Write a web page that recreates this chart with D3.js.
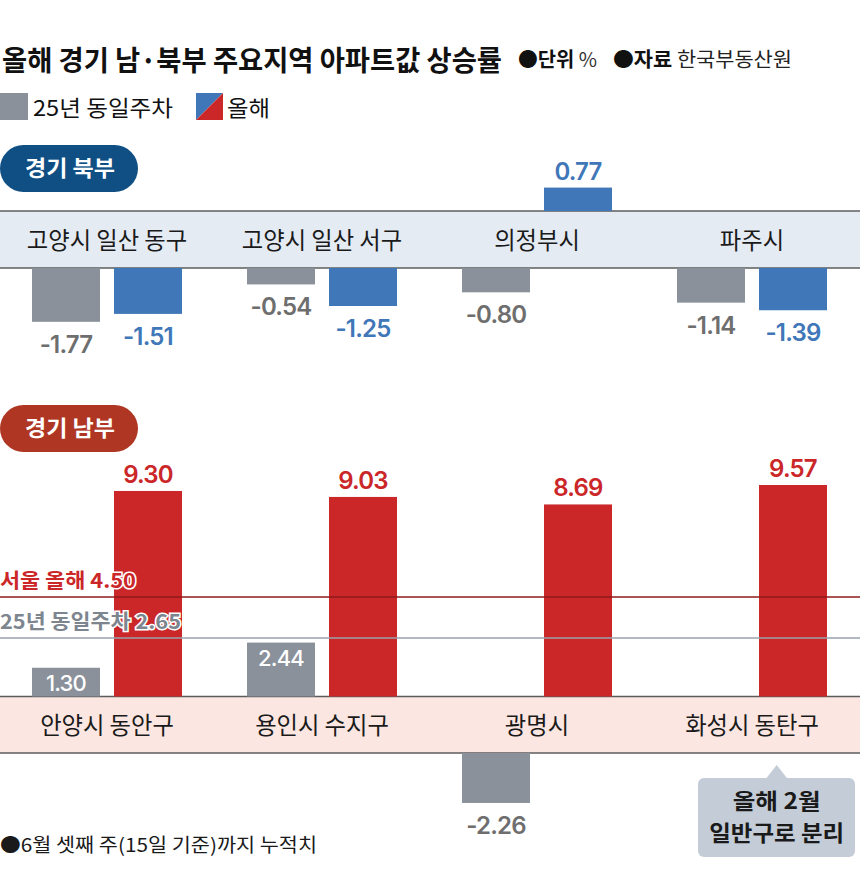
<!DOCTYPE html>
<html><head><meta charset="utf-8">
<script src="https://cdn.jsdelivr.net/npm/d3@7/dist/d3.min.js"></script>
<style>
html,body{margin:0;padding:0;background:#fff;}
svg{display:block;}
text{font-family:"Noto Sans CJK KR","Noto Sans",sans-serif;}
.num{font-family:Inter,"Noto Sans",sans-serif;}
</style></head>
<body>
<svg id="chart" width="860" height="869"></svg>
<script>
// ---------- DATA ----------
const northCategories = ["고양시 일산 동구", "고양시 일산 서구", "의정부시", "파주시"];
const northPrev = [-1.77, -0.54, -0.80, -1.14];   // 25년 동일주차
const northThis = [-1.51, -1.25, 0.77, -1.39];    // 올해
const southCategories = ["안양시 동안구", "용인시 수지구", "광명시", "화성시 동탄구"];
const southPrev = [1.30, 2.44, -2.26, null];
const southThis = [9.30, 9.03, 8.69, 9.57];
const seoulThis = 4.50;
const prevAvg = 2.65;
const seriesKeys = ["prev", "this"];

// ---------- STYLE ----------
const C = {
  gray: "#8a919b", blue: "#3f77b8", red: "#cb2628",
  grayText: "#6e6e6e", navy: "#0f4f84", brick: "#b03624",
  northBand: "#e5ebf3", southBand: "#fbe6e1", bandLine: "#5c5c5c",
  seoulLine: "#8e1b1b", prevLine: "#9aa2ad", prevLabel: "#7d858f"
};

const svg = d3.select("#chart");

function condense(sel, target) {
  sel.attr("textLength", target).attr("lengthAdjust", "spacingAndGlyphs");
}

// ---------- HEADER ----------
svg.append("text").attr("x", 2).attr("y", 71)
  .attr("font-size", 28).attr("font-weight", 700).attr("fill", "#111")
  .text("올해 경기 남·북부 주요지역 아파트값 상승률").call(condense, 500);

const unit = svg.append("text").attr("x", 518).attr("y", 67).attr("font-size", 20).attr("fill", "#111");
unit.append("tspan").attr("font-weight", 700).text("●단위");
unit.append("tspan").attr("font-weight", 400).attr("fill", "#333").text(" %");
unit.call(condense, 79);

const src = svg.append("text").attr("x", 613).attr("y", 67).attr("font-size", 20).attr("fill", "#111");
src.append("tspan").attr("font-weight", 700).text("●자료");
src.append("tspan").attr("font-weight", 400).attr("fill", "#222").text(" 한국부동산원");
src.call(condense, 179);

// legend
svg.append("rect").attr("x", 0).attr("y", 93).attr("width", 28).attr("height", 27).attr("fill", C.gray);
svg.append("text").attr("x", 33).attr("y", 116).attr("font-size", 22).attr("fill", "#111")
  .text("25년 동일주차").call(condense, 140);
svg.append("path").attr("d", "M196,93 L223,93 L196,120 Z").attr("fill", C.blue);
svg.append("path").attr("d", "M223,93 L223,120 L196,120 Z").attr("fill", C.red);
svg.append("text").attr("x", 227).attr("y", 116).attr("font-size", 22).attr("fill", "#111")
  .text("올해").call(condense, 43);

// ---------- PANEL ----------
const x1 = d3.scaleBand().domain(seriesKeys).range([32, 182]).paddingInner(0.1707);

function drawPanel(cfg) {
  const x = d3.scaleBand().domain(cfg.cats).range([0, 860]);
  const len = d3.scaleLinear().domain([0, 1]).range([0, cfg.unit]);
  const g = svg.append("g");

  // badge
  g.append("rect").attr("x", 0).attr("y", cfg.badgeY).attr("width", 138).attr("height", 47)
    .attr("rx", 23.5).attr("fill", cfg.badgeFill);
  g.append("text").attr("x", 70).attr("y", cfg.badgeY + 31).attr("text-anchor", "middle")
    .attr("font-size", 22).attr("font-weight", 700).attr("fill", "#fff")
    .text(cfg.badgeText).call(condense, 90);

  // band
  g.append("rect").attr("x", 0).attr("y", cfg.top).attr("width", 860).attr("height", cfg.bottom - cfg.top)
    .attr("fill", cfg.bandFill);
  [cfg.top, cfg.bottom].forEach(yy => g.append("line").attr("x1", 0).attr("x2", 860)
    .attr("y1", yy).attr("y2", yy).attr("stroke", C.bandLine).attr("stroke-width", 1.6));

  // category labels
  g.selectAll(".cat").data(cfg.cats).join("text")
    .attr("x", d => x(d) + 107).attr("y", (cfg.top + cfg.bottom) / 2 + 9)
    .attr("text-anchor", "middle").attr("font-size", 24).attr("fill", "#1a1a1a")
    .text(d => d)
    .each(function () {
      const w = this.getComputedTextLength();
      d3.select(this).attr("textLength", w * 0.97).attr("lengthAdjust", "spacingAndGlyphs");
    });

  const rows = [];
  cfg.cats.forEach((c, i) => {
    rows.push({ cat: c, key: "prev", v: cfg.prev[i] });
    rows.push({ cat: c, key: "this", v: cfg.curr[i] });
  });
  const data = rows.filter(d => d.v !== null && d.v !== undefined);

  const barY = d => d.v >= 0 ? cfg.top - len(d.v) : cfg.bottom;
  const barH = d => len(Math.abs(d.v));
  const colorOf = d => d.key === "prev" ? C.gray : cfg.currColor;

  g.selectAll(".bar").data(data).join("rect")
    .attr("x", d => x(d.cat) + x1(d.key)).attr("width", x1.bandwidth())
    .attr("y", barY).attr("height", barH).attr("fill", colorOf);

  cfg.afterBars && cfg.afterBars(g, len);

  const isInside = d => d.key === "prev" && cfg.inside && d.v > 0;
  g.selectAll(".val").data(data).join("text")
    .attr("class", "num")
    .attr("x", d => x(d.cat) + x1(d.key) + x1.bandwidth() / 2)
    .attr("y", d => {
      if (d.v < 0) return cfg.bottom + len(-d.v) + 31;
      if (isInside(d)) return barY(d) + 23;
      return barY(d) - 8;
    })
    .attr("text-anchor", "middle")
    .attr("font-size", d => isInside(d) ? 22 : 24)
    .attr("font-weight", d => isInside(d) ? 500 : 600)
    .attr("letter-spacing", -0.8)
    .attr("fill", d => {
      if (d.key === "prev") return isInside(d) ? "#fff" : C.grayText;
      return cfg.currColor;
    })
    .text(d => d3.format(".2f")(d.v).replace("−", "-"));
}

drawPanel({
  cats: northCategories, prev: northPrev, curr: northThis,
  top: 211, bottom: 268, unit: 30.4, bandFill: C.northBand, currColor: C.blue,
  badgeY: 145, badgeFill: C.navy, badgeText: "경기 북부", inside: false
});

drawPanel({
  cats: southCategories, prev: southPrev, curr: southThis,
  top: 696.5, bottom: 753, unit: 22.1, bandFill: C.southBand, currColor: C.red,
  badgeY: 405, badgeFill: C.brick, badgeText: "경기 남부", inside: true,
  afterBars: (g, len) => {
    const ySeoul = 696.5 - len(seoulThis);
    const yPrev = 696.5 - len(prevAvg);
    g.append("line").attr("x1", 0).attr("x2", 860).attr("y1", ySeoul).attr("y2", ySeoul)
      .attr("stroke", C.seoulLine).attr("stroke-width", 1.6);
    g.append("line").attr("x1", 0).attr("x2", 860).attr("y1", yPrev).attr("y2", yPrev)
      .attr("stroke", C.prevLine).attr("stroke-width", 1.6);
    g.append("text").attr("x", 0).attr("y", ySeoul - 9).attr("font-size", 20).attr("font-weight", 700)
      .attr("fill", C.red).attr("stroke", "#fff").attr("stroke-width", 3).attr("paint-order", "stroke")
      .text(`서울 올해 ${d3.format(".2f")(seoulThis)}`).call(condense, 136);
    g.append("text").attr("x", 0).attr("y", yPrev - 9).attr("font-size", 20).attr("font-weight", 700)
      .attr("fill", C.prevLabel).attr("stroke", "#fff").attr("stroke-width", 3).attr("paint-order", "stroke")
      .text(`25년 동일주차 ${d3.format(".2f")(prevAvg)}`).call(condense, 181);
  }
});

// ---------- CALLOUT ----------
const cx = 776.7;
svg.append("rect").attr("x", 698).attr("y", 778).attr("width", 157).attr("height", 79)
  .attr("rx", 6).attr("fill", "#c3ccd7");
svg.append("path").attr("d", `M${cx - 11},779 L${cx},765 L${cx + 11},779 Z`).attr("fill", "#c3ccd7");
svg.append("text").attr("x", cx).attr("y", 809).attr("text-anchor", "middle")
  .attr("font-size", 22).attr("font-weight", 700).attr("fill", "#1a1a1a")
  .text("올해 2월").call(condense, 88);
svg.append("text").attr("x", cx).attr("y", 841).attr("text-anchor", "middle")
  .attr("font-size", 22).attr("font-weight", 700).attr("fill", "#1a1a1a")
  .text("일반구로 분리").call(condense, 135);

// ---------- FOOTNOTE ----------
svg.append("text").attr("x", 0).attr("y", 852).attr("font-size", 19).attr("fill", "#1a1a1a")
  .text("●6월 셋째 주(15일 기준)까지 누적치").call(condense, 317);
</script>
</body></html>
